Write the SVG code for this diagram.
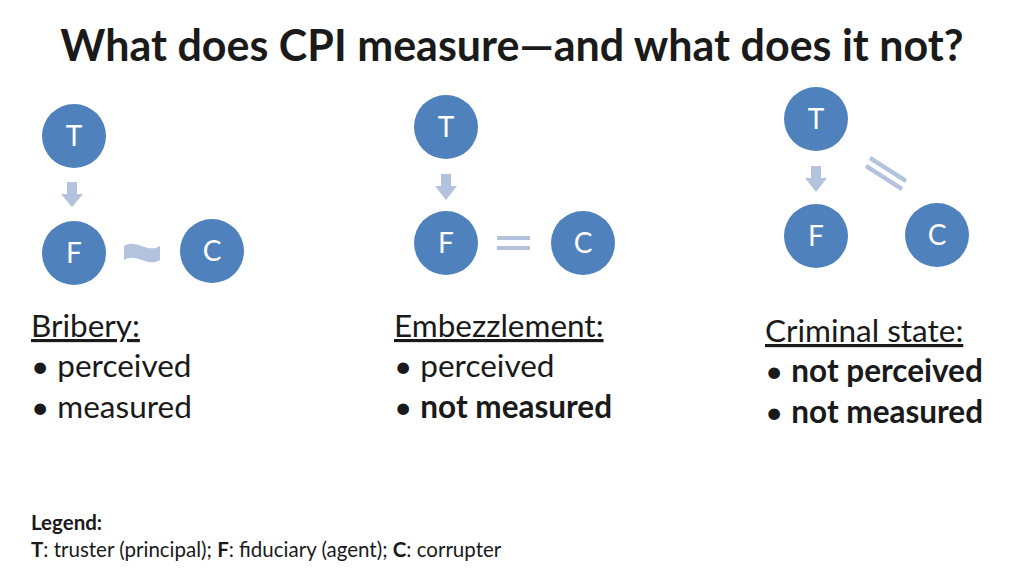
<svg xmlns="http://www.w3.org/2000/svg" width="1024" height="576" viewBox="0 0 1024 576">
<style>
.n{fill:#4f81bd}
.nt{fill:#fff;font-family:Lato,"Open Sans",sans-serif;font-size:28px;text-anchor:middle}
.s{fill:#b3c3dd}
.t{font-family:Lato,"Open Sans",sans-serif;font-size:31.5px;fill:#1a1a1a}
.b{font-weight:bold}
</style>
<rect width="1024" height="576" fill="#fff"/>
<text x="512" y="61" text-anchor="middle" class="t b" style="font-size:43px">What does CPI measure—and what does it not?</text>
<g id="t1"><circle class="n" cx="74" cy="136" r="32"/><text class="nt" x="74" y="146">T</text></g>
<g id="f1"><circle class="n" cx="74" cy="253" r="32"/><text class="nt" x="74" y="263">F</text></g>
<g id="c1"><circle class="n" cx="212" cy="251" r="32"/><text class="nt" x="212" y="261">C</text></g>
<g id="t2"><circle class="n" cx="446" cy="127" r="32"/><text class="nt" x="446" y="137">T</text></g>
<g id="f2"><circle class="n" cx="446" cy="243" r="32"/><text class="nt" x="446" y="253">F</text></g>
<g id="c2"><circle class="n" cx="583" cy="243" r="32"/><text class="nt" x="583" y="253">C</text></g>
<g id="t3"><circle class="n" cx="816" cy="119" r="32"/><text class="nt" x="816" y="129">T</text></g>
<g id="f3"><circle class="n" cx="816" cy="236" r="32"/><text class="nt" x="816" y="246">F</text></g>
<g id="c3"><circle class="n" cx="937" cy="235" r="32"/><text class="nt" x="937" y="245">C</text></g>
<g id="connectors">
<path class="s" d="M67,182h10v12h6l-11,13l-11,-13h6z"/>
<path class="s" d="M441,174h10v12h6l-11,14l-11,-14h6z"/>
<path class="s" d="M811,166h10v12h6l-11,14l-11,-14h6z"/>
<path class="s" d="M124,246c12,-8 24,8 36,0v14c-12,8 -24,-8 -36,0z"/>
<rect class="s" x="497" y="236" width="33" height="4"/>
<rect class="s" x="497" y="246" width="33" height="4"/>
<path class="s" d="M871,156l36,23l-2,4l-36,-23z"/>
<path class="s" d="M867,164l36,23l-2,4l-36,-23z"/>
</g>
<g class="t">
<text x="31" y="337" text-decoration="underline">Bribery:</text>
<text x="31" y="377">• perceived</text>
<text x="31" y="418">• measured</text>
<text x="394" y="337" text-decoration="underline">Embezzlement:</text>
<text x="394" y="377">• perceived</text>
<text x="394" y="418">• <tspan class="b">not measured</tspan></text>
<text x="765" y="342" text-decoration="underline">Criminal state:</text>
<text x="765" y="382">• <tspan class="b">not perceived</tspan></text>
<text x="765" y="423">• <tspan class="b">not measured</tspan></text>
</g>
<g class="t" style="font-size:20.5px">
<text x="31" y="530" class="b">Legend:</text>
<text x="31" y="557"><tspan class="b">T</tspan>: truster (principal); <tspan class="b">F</tspan>: fiduciary (agent); <tspan class="b">C</tspan>: corrupter</text>
</g>
</svg>
